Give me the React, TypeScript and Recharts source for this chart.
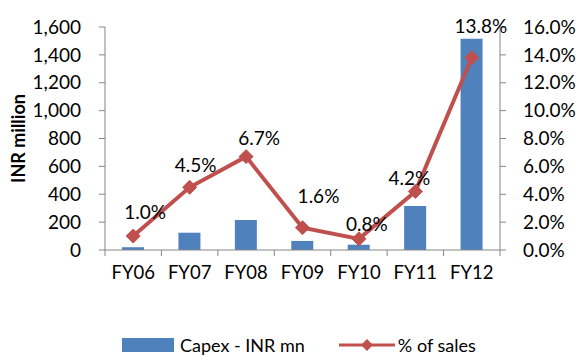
import { ComposedChart, Bar, Line, XAxis, YAxis, Legend } from 'recharts';

const categories = ['FY06', 'FY07', 'FY08', 'FY09', 'FY10', 'FY11', 'FY12'];
const capex = [20, 124, 215, 65, 38, 316, 1516];
const pctSales = [1.0, 4.5, 6.7, 1.6, 0.8, 4.2, 13.8];
const leftTicks = [0, 200, 400, 600, 800, 1000, 1200, 1400, 1600];
const rightTicks = [0, 2, 4, 6, 8, 10, 12, 14, 16];

// manual label nudges, like the hand-placed Excel labels
const labelNudge = [
  [12, -25], [6, -23], [13, -19], [16, -32], [8, -15], [-6, -14], [9, -32],
];

const BLUE = '#4F81BD';
const RED = '#C0504D';
const AXIS = '#868686';
const FONT = 'Lato, "Open Sans", sans-serif';

const data = categories.map((name, i) => ({ name, capex: capex[i], pct: pctSales[i] }));

const fmtThousands = (v: number) => v.toLocaleString('en-US');
const fmtPct = (v: number) => `${v.toFixed(1)}%`;

function XTick(props: any) {
  const { x, y, payload, index } = props;
  const half = 56.43 / 2;
  return (
    <g>
      <line x1={x - half} x2={x - half} y1={y - 8} y2={y - 2} stroke={AXIS} />
      {index === categories.length - 1 && (
        <line x1={x + half} x2={x + half} y1={y - 8} y2={y - 2} stroke={AXIS} />
      )}
      <text x={x} y={y + 14} textAnchor="middle" dominantBaseline="central" fontSize={18.5} fill="#000" fontFamily={FONT}>
        {payload.value}
      </text>
    </g>
  );
}

function PctLabel(props: any) {
  const { x, y, index, value } = props;
  const [dx, dy] = labelNudge[index] || [0, -20];
  return (
    <text x={x + dx} y={y + dy} textAnchor="middle" dominantBaseline="central" fontSize={19} fill="#000" fontFamily={FONT}>
      {fmtPct(value)}
    </text>
  );
}

function YTitle(props: any) {
  const { viewBox } = props;
  const cy = viewBox.y + viewBox.height / 2;
  return (
    <text x={18} y={cy} transform={`rotate(-90 18 ${cy})`} textAnchor="middle" dominantBaseline="central" fontSize={18} fontWeight="bold" fill="#000" fontFamily={FONT}>
      INR million
    </text>
  );
}

function Diamond(props: any) {
  const { cx, cy } = props;
  if (cx == null || cy == null) return null;
  const r = 7;
  return <path d={`M${cx},${cy - r}L${cx + r},${cy}L${cx},${cy + r}L${cx - r},${cy}Z`} fill={RED} stroke={RED} />;
}

function LegendBox() {
  return (
    <div style={{ display: 'flex', alignItems: 'center', fontFamily: FONT, fontSize: 18, color: '#000', height: 22, paddingLeft: 122 }}>
      <span style={{ display: 'inline-block', width: 52, height: 14, background: BLUE, marginRight: 6 }} />
      <span>Capex - INR mn</span>
      <svg width={56} height={14} style={{ marginLeft: 34, marginRight: 3 }}>
        <line x1={0} x2={56} y1={7} y2={7} stroke={RED} strokeWidth={3} />
        <path d="M28,1L34,7L28,13L22,7Z" fill={RED} />
      </svg>
      <span>% of sales</span>
    </div>
  );
}

export default function App() {
  return (
    <div style={{ position: 'absolute', left: 0, top: 0, width: 576, height: 356, background: '#fff' }}>
      <ComposedChart width={576} height={356} data={data} margin={{ top: 27, right: 0, left: 0, bottom: 54 }}>
        <XAxis dataKey="name" stroke={AXIS} tickLine={false} tick={<XTick />} height={30} interval={0} />
        <YAxis
          yAxisId="left"
          domain={[0, 1600]}
          ticks={leftTicks}
          tickFormatter={fmtThousands}
          width={105}
          stroke={AXIS}
          tickSize={6}
          tickMargin={18}
          tick={{ fontSize: 19, fill: '#000', fontFamily: FONT }}
          label={<YTitle />}
        />
        <YAxis
          yAxisId="right"
          orientation="right"
          domain={[0, 16]}
          ticks={rightTicks}
          tickFormatter={fmtPct}
          width={76}
          stroke={AXIS}
          tickSize={6}
          tickMargin={17}
          tick={{ fontSize: 19, fill: '#000', fontFamily: FONT, textAnchor: 'start' }}
        />
        <Bar yAxisId="left" dataKey="capex" name="Capex - INR mn" fill={BLUE} barSize={22} isAnimationActive={false} />
        <Line
          yAxisId="right"
          dataKey="pct"
          name="% of sales"
          stroke={RED}
          strokeWidth={4}
          dot={<Diamond />}
          activeDot={false}
          label={<PctLabel />}
          isAnimationActive={false}
        />
        <Legend verticalAlign="bottom" content={<LegendBox />} wrapperStyle={{ left: 0, width: 576, bottom: 0 }} />
      </ComposedChart>
    </div>
  );
}
